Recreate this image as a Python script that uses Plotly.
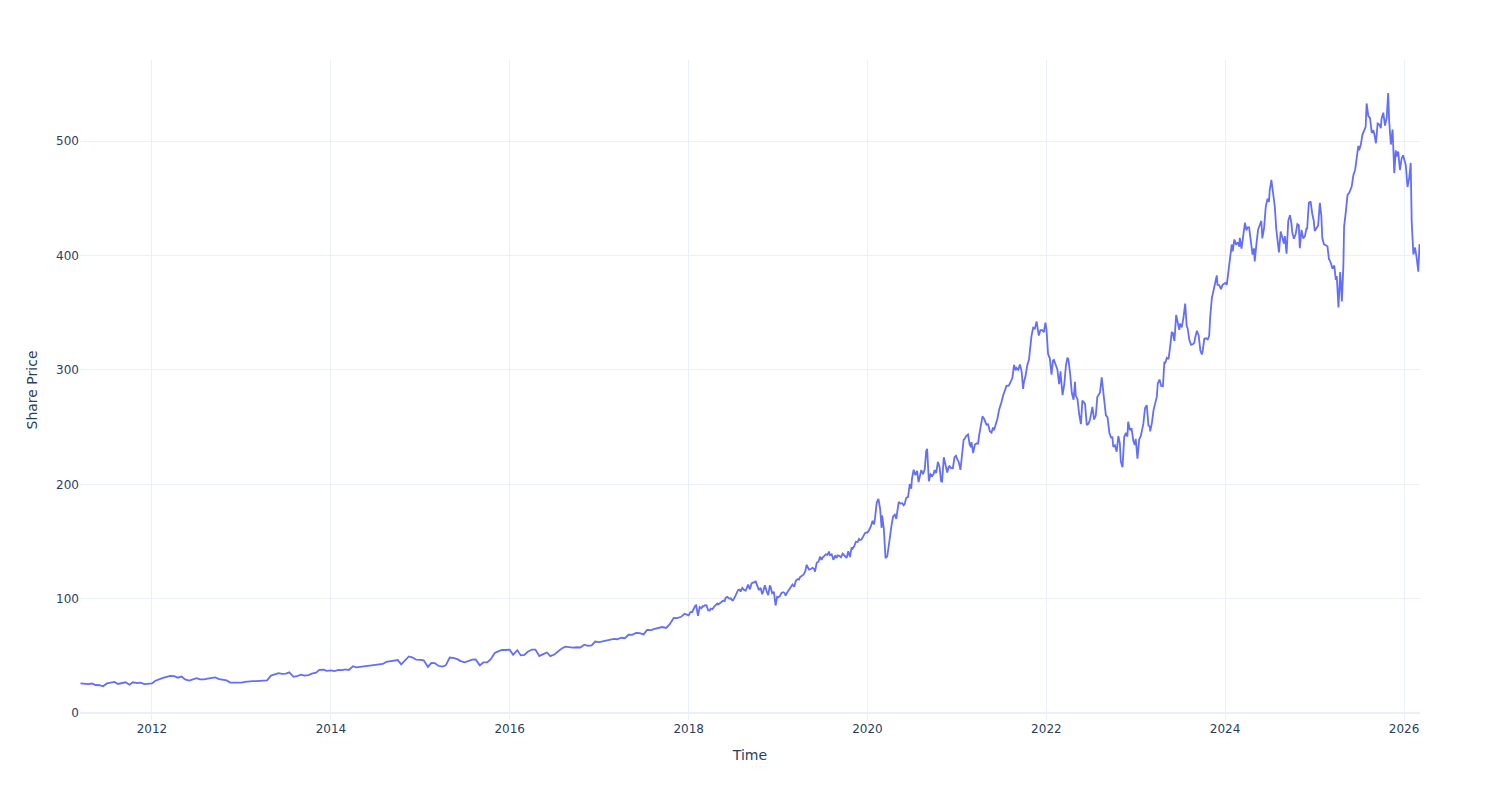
import pandas as pd
import plotly.graph_objects as go

# ---- Semi-monthly closes (1st and 15th of each month), 2011-03 .. 2017-12 ----
p2011 = [26.0, 25.5, 25.4, 25.9, 24.6, 24.4, 23.5, 26.0, 26.8, 27.3, 25.5, 26.2, 27.0, 24.9,
         27.0, 26.3, 26.7, 25.3, 25.6]  # starts 2011-03-15
p2012 = [26.0, 28.3, 29.9, 30.8, 31.7, 32.5, 32.3, 31.0, 32.0, 29.5, 28.5, 29.8, 30.6, 29.5,
         29.5, 30.2, 30.8, 31.2, 29.8, 29.0, 28.6, 26.7, 26.6, 27.0]
p2013 = [26.7, 27.4, 27.9, 28.0, 27.9, 28.0, 28.6, 28.7, 32.8, 33.8, 34.9, 34.4, 34.5, 35.6,
         31.8, 32.4, 33.6, 32.8, 33.3, 34.5, 35.4, 37.8, 38.1, 36.9]
p2014 = [37.4, 36.8, 37.8, 37.6, 38.3, 37.7, 41.0, 40.0, 40.4, 40.5, 40.9, 41.2, 41.9, 42.5,
         43.0, 44.8, 45.4, 46.4, 46.4, 42.7, 46.9, 49.6, 48.6, 46.7]
p2015 = [46.5, 46.2, 40.4, 43.9, 43.7, 41.4, 40.7, 41.8, 48.6, 48.3, 47.2, 45.5, 44.4, 45.7,
         46.7, 47.0, 41.8, 44.3, 44.3, 47.0, 52.6, 54.0, 55.2, 55.2]
p2016 = [55.5, 51.0, 55.1, 50.5, 50.9, 53.6, 55.6, 55.6, 49.9, 51.4, 53.0, 49.8, 51.2, 53.7,
         56.6, 58.1, 57.6, 57.2, 57.6, 57.4, 59.8, 58.9, 59.2, 62.6]
p2017 = [62.1, 62.7, 63.6, 64.5, 64.9, 64.6, 65.9, 65.5, 68.5, 68.4, 70.1, 70.0, 68.9, 72.8,
         72.6, 73.6, 74.7, 75.3, 74.5, 77.5, 83.2, 83.0, 84.2, 86.9]

# ---- Closes on days 1, 8, 15, 22, 28 of each month, 2018 .. 2026-02 ----
p2018 = [[85.5, 88.3, 88.4, 91.6, 93.9], [94.3, 85.0, 92.7, 91.7, 93.8], [92.9, 94.4, 94.2, 89.8, 89.7],
         [91.3, 90.8, 93.1, 95.0, 95.8], [95.0, 95.8, 97.2, 98.4, 98.0], [100.8, 101.6, 100.1, 100.4, 98.6],
         [98.6, 101.2, 105.4, 107.7, 108.0], [106.3, 109.5, 107.7, 107.1, 111.0], [112.3, 108.2, 113.4, 114.3, 114.4],
         [115.6, 110.9, 107.6, 109.6, 104.0], [105.9, 111.8, 106.9, 103.1, 111.1], [110.9, 104.8, 106.0, 94.1, 101.6]]
p2019 = [[101.1, 102.1, 105.0, 105.7, 105.0], [102.8, 105.7, 108.2, 110.9, 112.0], [112.5, 110.5, 115.9, 117.1, 116.9],
         [119.0, 119.9, 121.1, 123.8, 129.8], [127.9, 125.5, 126.0, 127.0, 126.2], [123.7, 131.4, 132.4, 136.9, 133.9],
         [135.7, 137.0, 138.9, 138.4, 141.3], [138.1, 138.9, 134.0, 137.8, 135.6], [137.9, 137.5, 136.3, 139.4, 137.7],
         [137.1, 135.7, 141.6, 136.4, 144.2], [143.7, 145.9, 149.9, 149.6, 152.3], [151.4, 151.8, 154.5, 157.4, 158.0]]
p2020 = [[157.7, 160.1, 163.2, 168.1, 165.0], [170.2, 183.9, 187.3, 178.6, 162.0], [172.8, 161.6, 135.4, 137.0, 149.7],
         [152.1, 163.5, 171.9, 173.5, 169.8], [174.6, 184.7, 183.2, 183.5, 181.8], [182.8, 188.4, 188.9, 200.3, 196.3],
         [204.7, 212.8, 208.0, 211.8, 202.0], [205.0, 212.5, 208.9, 213.0, 228.9], [231.0, 202.7, 208.8, 207.4, 209.4],
         [212.5, 210.0, 219.7, 214.9, 202.7], [202.5, 223.7, 216.5, 210.4, 215.2], [216.0, 214.2, 214.1, 223.9, 225.0]]
p2021 = [[222.4, 219.6, 212.7, 225.9, 238.9], [239.7, 242.5, 243.7, 234.5, 232.4], [236.9, 227.4, 234.8, 235.9, 235.8],
         [242.4, 253.3, 259.5, 257.2, 254.6], [252.2, 252.5, 246.5, 245.2, 249.7], [247.4, 252.6, 257.4, 265.3, 268.7],
         [271.6, 277.4, 281.0, 286.1, 286.2], [286.5, 289.5, 293.0, 304.4, 299.7], [301.8, 300.2, 304.8, 298.6, 283.5],
         [289.1, 294.9, 304.2, 309.2, 324.3], [329.4, 337.0, 336.1, 342.5, 330.1], [330.1, 334.9, 334.9, 333.1, 341.3]]
p2022 = [[336.3, 314.0, 310.2, 296.0, 308.3], [308.8, 304.6, 300.5, 287.7, 298.8], [294.9, 278.0, 287.2, 304.1, 310.7],
         [309.4, 296.9, 279.8, 274.0, 289.6], [277.5, 274.7, 261.1, 252.6, 273.2], [272.4, 270.4, 251.8, 253.1, 256.5],
         [259.6, 267.7, 256.7, 260.4, 276.4], [278.0, 280.3, 293.5, 277.8, 262.9], [260.4, 258.5, 245.4, 240.9, 241.1],
         [232.9, 234.2, 228.6, 242.1, 235.9], [220.0, 215.0, 241.6, 245.0, 241.8], [254.7, 247.4, 249.0, 238.2, 234.5]]
p2023 = [[239.8, 222.5, 239.2, 242.6, 248.2], [252.8, 266.7, 269.3, 251.5, 250.2], [246.3, 253.7, 265.4, 272.8, 276.4],
         [288.3, 291.6, 286.1, 285.8, 307.3], [305.6, 310.7, 309.5, 321.2, 332.9], [332.6, 325.3, 348.1, 339.7, 335.1],
         [340.5, 337.2, 346.0, 358.0, 338.4], [336.3, 326.1, 321.9, 322.5, 323.7], [328.7, 334.3, 330.2, 317.0, 313.6],
         [315.8, 327.3, 327.7, 326.7, 329.8], [346.1, 363.2, 369.7, 377.9, 382.7], [374.5, 374.2, 370.7, 374.6, 375.3]]
p2024 = [[376.0, 374.7, 388.5, 396.5, 409.7], [403.8, 414.1, 409.5, 411.7, 407.7], [415.5, 406.2, 416.4, 428.7, 422.0],
         [424.6, 424.6, 413.6, 400.9, 406.3], [394.9, 410.5, 423.1, 427.0, 430.3], [415.1, 423.9, 442.6, 449.8, 447.0],
         [456.7, 466.2, 453.6, 442.9, 422.9], [417.1, 402.7, 421.0, 415.6, 410.6], [417.1, 401.7, 430.6, 435.3, 428.0],
         [420.7, 414.7, 418.7, 427.5, 426.6], [406.4, 422.5, 415.0, 417.0, 423.5], [423.5, 446.0, 447.3, 436.6, 430.5]]
p2025 = [[421.5, 424.6, 426.3, 446.2, 434.6], [415.1, 409.8, 409.0, 408.2, 397.0], [397.0, 393.3, 388.6, 391.3, 378.8],
         [382.2, 354.6, 385.7, 360.0, 391.2], [425.4, 438.2, 453.1, 454.9, 458.7], [460.4, 470.4, 474.9, 486.0, 495.9],
         [492.1, 496.6, 505.8, 510.1, 512.5], [533.0, 522.0, 520.2, 507.2, 509.6], [506.7, 498.2, 515.4, 514.5, 511.5],
         [519.7, 524.9, 513.6, 520.5, 542.1], [517.8, 497.1, 510.2, 472.1, 492.0], [486.7, 491.0, 474.8, 484.9, 487.7]]
p2026 = [[483.6, 479.0, 460.0, 468.0, 481.0], [430.0, 401.0, 407.0, 397.0, 386.0]]
last_date = ["2026-03-05"]
last_close = [410.0]

early_years = {2011: p2011, 2012: p2012, 2013: p2013, 2014: p2014,
               2015: p2015, 2016: p2016, 2017: p2017}
late_years = {2018: p2018, 2019: p2019, 2020: p2020, 2021: p2021,
              2022: p2022, 2023: p2023, 2024: p2024, 2025: p2025, 2026: p2026}

dates, closes = [], []
for year, vals in early_years.items():
    ds = [f"{year}-{m:02d}-{d:02d}" for m in range(1, 13) for d in (1, 15)]
    ds = ds[len(ds) - len(vals):]
    dates += ds
    closes += vals
for year, months in late_years.items():
    for m, mv in enumerate(months, start=1):
        dates += [f"{year}-{m:02d}-{d:02d}" for d in (1, 8, 15, 22, 28)]
        closes += mv
dates += last_date
closes += last_close

df = pd.DataFrame({"Time": pd.to_datetime(dates), "Close": closes})

fig = go.Figure(
    go.Scatter(x=df["Time"], y=df["Close"], mode="lines",
               line=dict(color="#636efa", width=1.8), name="Close")
)
fig.update_layout(
    template="plotly_white",
    width=1500, height=800,
    font=dict(family="DejaVu Sans, Verdana, sans-serif"),
    margin=dict(l=80, r=80, t=60, b=80),
    showlegend=False,
    xaxis=dict(title=dict(text="Time"), range=["2011-03-13", "2026-03-07"],
               dtick="M24", tick0="2012-01-01"),
    yaxis=dict(title=dict(text="Share Price"), range=[-6, 571]),
)
fig.write_html("out.html")
